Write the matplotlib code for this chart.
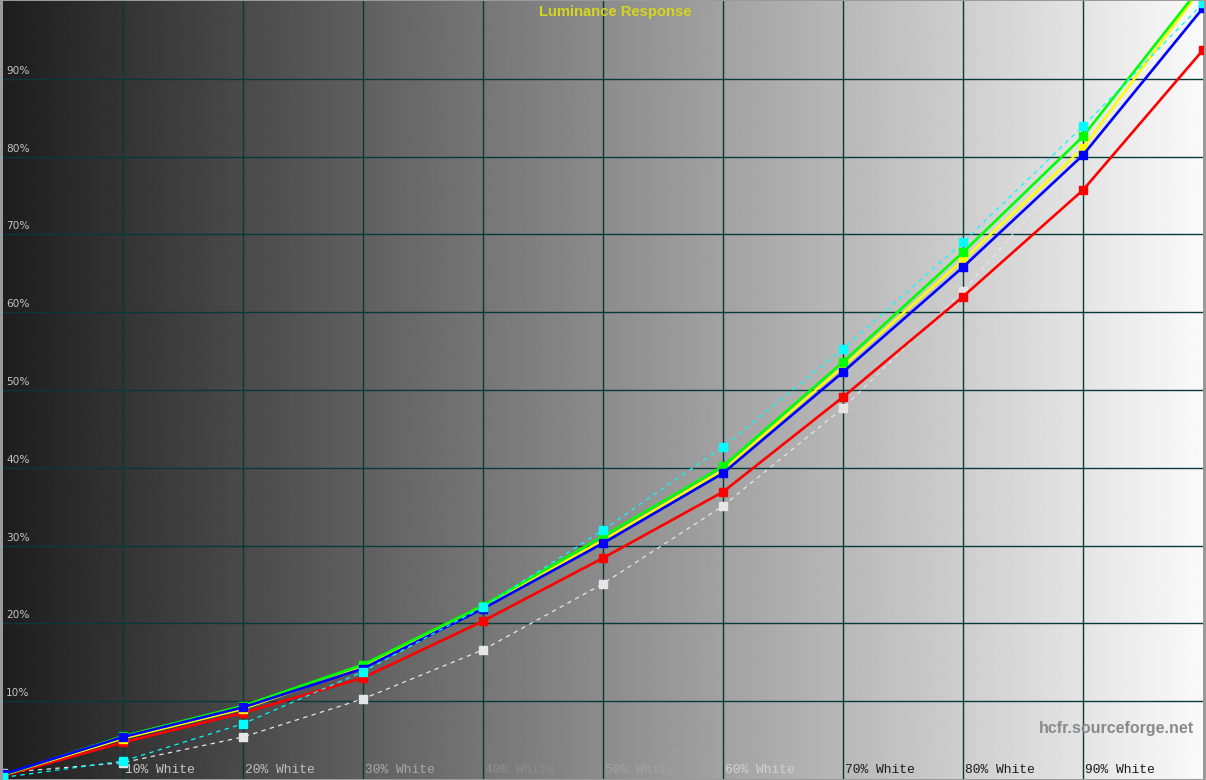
import matplotlib.pyplot as plt
import numpy as np


# Stimulus levels (% white) and measured luminance (% of white)
levels = [0, 10, 20, 30, 40, 50, 60, 70, 80, 90, 100]
red = [0.4, 4.7, 8.5, 13.0, 20.3, 28.4, 36.9, 49.1, 62.0, 75.7, 93.7]
green = [0.5, 5.5, 9.4, 14.7, 22.3, 31.2, 40.2, 53.6, 67.7, 82.6, 102.2]
blue = [0.6, 5.4, 9.2, 14.2, 21.9, 30.3, 39.3, 52.3, 65.8, 80.2, 99.1]
yellow = [0.5, 5.2, 9.0, 14.4, 22.1, 30.7, 39.7, 53.0, 66.7, 81.1, 101.9]
cyan = [0.2, 2.3, 7.1, 13.8, 22.1, 32.0, 42.7, 55.3, 69.0, 83.9, 99.7]
white = [0.8, 2.1, 5.4, 10.3, 16.6, 25.1, 35.1, 47.7, 62.7, 80.3, 99.5]

grid_ticks = [10, 20, 30, 40, 50, 60, 70, 80, 90]
y_labels = ["10%", "20%", "30%", "40%", "50%", "60%", "70%", "80%", "90%"]
x_labels = ["10% White", "20% White", "30% White", "40% White", "50% White",
            "60% White", "70% White", "80% White", "90% White"]
x_label_colors = ["#c8c8c8", "#c0c0c0", "#a8a8a8", "#8e8e8e", "#a2a2a2",
                  "#d2d2d2", "#1a1a1a", "#1a1a1a", "#1a1a1a"]

fig = plt.figure(figsize=(12.06, 7.80), dpi=100, facecolor="#9a9a9a")
ax = fig.add_axes([3 / 1206, 1 / 780, 1200 / 1206, 778 / 780])
ax.set_xlim(0, 100)
ax.set_ylim(0, 100)
ax.axis("off")

# grey ramp background, dark on the left, nearly white on the right
ramp = np.linspace(30, 250, 600).reshape(1, -1)
ax.imshow(ramp, cmap="gray", vmin=0, vmax=255, extent=[0, 100, 0, 100],
          aspect="auto", zorder=0, interpolation="bilinear")

# grid
for t in grid_ticks:
    ax.axvline(t, color="#053a3a", lw=1.0, zorder=1)
    ax.axhline(t, color="#053a3a", lw=1.0, zorder=1)

# tick labels drawn inside the plot
for t, lab in zip(grid_ticks, y_labels):
    ax.annotate(lab, (0, t), xytext=(3, 3), textcoords="offset pixels",
                color="#c4c4c4", fontsize=7.6, family="DejaVu Sans",
                ha="left", va="bottom", zorder=2)
for t, lab, c in zip(grid_ticks, x_labels, x_label_colors):
    ax.annotate(lab, (t, 0), xytext=(2, 3), textcoords="offset pixels",
                color=c, fontsize=9.4, family="Liberation Mono",
                ha="left", va="bottom", zorder=2)

# series
ms = 6.2
ax.plot(levels, white, color="#e6e6e6", lw=0.9, ls=(0, (3.5, 3.5)),
        marker="s", ms=ms, zorder=3)
ax.plot(levels, red, color="#ff0000", lw=1.9, marker="s", ms=ms, zorder=4)
ax.plot(levels, yellow, color="#ffff00", lw=1.7, marker="s", ms=ms, zorder=5)
ax.plot(levels, green, color="#00ff00", lw=1.9, marker="s", ms=ms, zorder=6)
ax.plot(levels, blue, color="#0000ff", lw=1.9, marker="s", ms=ms, zorder=7)
ax.plot(levels, cyan, color="#00ffff", lw=0.9, ls=(0, (3.5, 3.5)),
        marker="s", ms=ms, zorder=8)

ax.text(0.51, 0.995, "Luminance Response", transform=ax.transAxes,
        color="#d6d61a", fontsize=10.6, fontweight="bold",
        family="Liberation Sans", ha="center", va="top", zorder=9)
ax.text(0.9925, 0.055, "hcfr.sourceforge.net", transform=ax.transAxes,
        color="#8a8a8a", fontsize=11.5, fontweight="bold",
        family="Liberation Sans", ha="right", va="bottom", zorder=9)

fig.savefig("out.png", dpi=100, facecolor=fig.get_facecolor())
